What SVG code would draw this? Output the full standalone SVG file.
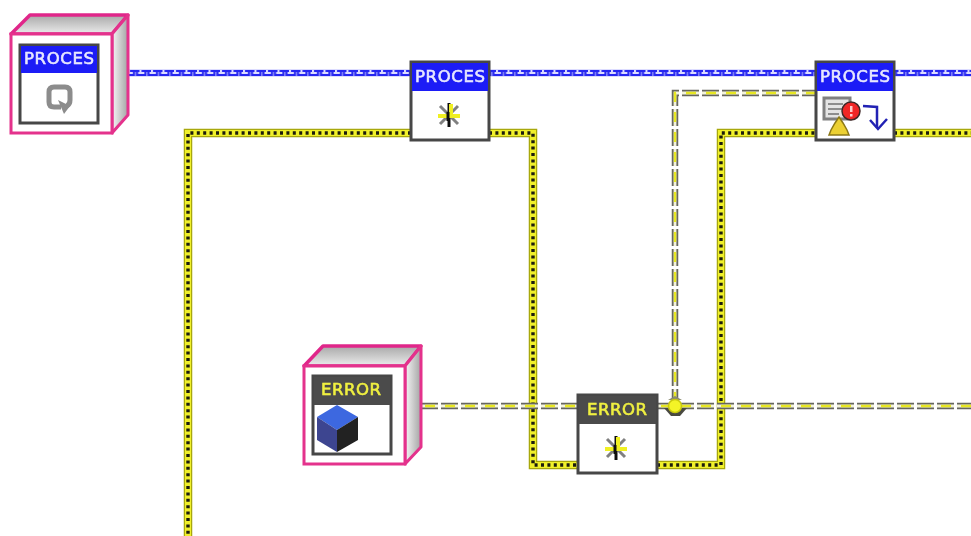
<svg xmlns="http://www.w3.org/2000/svg" width="971" height="536" viewBox="0 0 971 536">
<style>
.frame{fill:#fff;stroke:#e4308c;stroke-width:3}
.top{fill:url(#topGrad);stroke:#e0288a;stroke-width:3.500;stroke-linejoin:round}
.side{fill:url(#sideGrad);stroke:#e4308c;stroke-width:3;stroke-linejoin:round}
.box{fill:#fff;stroke:#464646;stroke-width:3}
.hdrP{fill:#1c1cf6}
.hdrE{fill:#4c4c4c}
.lab{font-family:"DejaVu Sans","Liberation Sans",sans-serif;font-size:16.500px;text-anchor:middle;stroke-width:.6}
.labP{fill:#e8e8ff;stroke:#e8e8ff}
.labE{fill:#f0f040;stroke:#f0f040}
.w{fill:none;stroke-linejoin:miter}
.yb{stroke:#a8a810;stroke-width:8.500}
.yf{stroke:#f0f02c;stroke-width:6}
.yd{stroke:#1c1c0c;stroke-width:3.400;stroke-dasharray:3 3.400}
.eb{stroke:#66665e;stroke-width:6.500;stroke-dasharray:17 3}
.ew{stroke:#f4f4dc;stroke-width:2.800;stroke-dasharray:17 3}
.ey{stroke:#e8e820;stroke-width:2.400;stroke-dasharray:10 10;stroke-dashoffset:-4}
.dg{stroke:#808080;stroke-width:3;fill:none}
.star{stroke:#101010;stroke-width:3;fill:none}
.starY{stroke:#f0f020;stroke-width:4;fill:none}
</style>
<defs>
<linearGradient id="topGrad" x1="0" y1="0" x2="0" y2="1"><stop offset="0" stop-color="#a8a8a8"/><stop offset="1" stop-color="#ececec"/></linearGradient>
<linearGradient id="sideGrad" x1="0" y1="0" x2="1" y2="0"><stop offset="0" stop-color="#f6f6f6"/><stop offset="1" stop-color="#a4a4a4"/></linearGradient>
<pattern id="blueWire" patternUnits="userSpaceOnUse" x="128" y="69" width="11.500" height="8">
<rect width="11.500" height="8" fill="#dcdcff"/>
<path d="M0 6H6V2H2M6 2H11.500M9 2V6H11.500" fill="none" stroke="#2828f0" stroke-width="2.200"/>
</pattern>
<filter id="soft" x="-5%" y="-5%" width="110%" height="110%"><feGaussianBlur stdDeviation="0.7"/></filter>
<g id="starIcon">
<path class="dg" d="M-9 -9L9 9M9 -9L-9 9"/>
<path class="star" d="M0 -12V12"/>
<path class="starY" d="M-11 1H11"/>
<path class="starY" d="M2 -11V1"/>
<path class="star" d="M-1 -3V6"/>
</g>
</defs>
<rect width="971" height="536" fill="#fff"/>
<g filter="url(#soft)">
<g id="connectors">
<g id="wire-blue">
<rect x="128" y="69" width="283" height="8" fill="url(#blueWire)"/>
<rect x="489" y="69" width="327" height="8" fill="url(#blueWire)"/>
<rect x="894" y="69" width="77" height="8" fill="url(#blueWire)"/>
</g>
<g id="wire-yellow" class="w">
<path class="w yb" d="M411 133H188V536"/><path class="w yf" d="M411 133H188V536"/><path class="w yd" d="M411 133H188V536"/>
<path class="w yb" d="M489 133H533V465H578"/><path class="w yf" d="M489 133H533V465H578"/><path class="w yd" d="M489 133H533V465H578"/>
<path class="w yb" d="M657 465H721V133H816"/><path class="w yf" d="M657 465H721V133H816"/><path class="w yd" d="M657 465H721V133H816"/>
<path class="w yb" d="M894 133H971"/><path class="w yf" d="M894 133H971"/><path class="w yd" d="M894 133H971"/>
</g>
<g id="wire-error" class="w">
<path class="w eb" d="M421 406H578"/><path class="w ew" d="M421 406H578"/><path class="w ey" d="M421 406H578"/>
<path class="w eb" d="M657 406H971"/><path class="w ew" d="M657 406H971"/><path class="w ey" d="M657 406H971"/>
<path class="w eb" d="M675 406V93H816"/><path class="w ew" d="M675 406V93H816"/><path class="w ey" d="M675 406V93H816"/>
<path d="M664 408L671 416H680L687 408Z" fill="#4a4a40"/>
<path d="M668 400L675 396L682 400Z" fill="#8a8a70"/>
<circle cx="675" cy="406" r="6.500" fill="#f4f428" stroke="#c8c810" stroke-width="1.500"/>
</g>
</g>
<g id="node-proces-control">
<path class="top" d="M11 34L30 15H128L112 34Z"/>
<path class="side" d="M112 34L128 15V115L112 133Z"/>
<rect class="frame" x="11" y="34" width="101" height="99"/>
<rect class="box" x="20" y="45" width="78" height="78"/>
<rect class="hdrP" x="21" y="46" width="76" height="27"/>
<text class="lab labP" x="59" y="64" textLength="70" lengthAdjust="spacing">PROCES</text>
<path d="M61 107H54Q49 107 49 102V92Q49 87 54 87H65Q70 87 70 92V100Q70 104 67 106" fill="none" stroke="#8c8c8c" stroke-width="5"/>
<path d="M58 100L70 106L64 114Z" fill="#8c8c8c"/>
</g>
<g id="node-proces-new">
<rect class="box" x="411" y="62" width="78" height="78"/>
<rect class="hdrP" x="412" y="63" width="76" height="28"/>
<text class="lab labP" x="450" y="82" textLength="70" lengthAdjust="spacing">PROCES</text>
<use href="#starIcon" x="449" y="115"/>
</g>
<g id="node-proces-status">
<rect class="box" x="816" y="62" width="78" height="78"/>
<rect class="hdrP" x="817" y="63" width="76" height="28"/>
<text class="lab labP" x="855" y="82" textLength="70" lengthAdjust="spacing">PROCES</text>
<rect x="824" y="98" width="26" height="21" fill="#e4e4e4" stroke="#808080" stroke-width="3"/>
<path d="M828 104H843M828 109H843M828 114H839" stroke="#707070" stroke-width="1.500"/>
<circle cx="851" cy="111" r="9" fill="#f02828" stroke="#402828" stroke-width="1.500"/>
<rect x="850" y="106" width="2.500" height="6" fill="#fcc"/><rect x="850" y="114" width="2.500" height="2.500" fill="#fcc"/>
<path d="M839 117L843 123L847 130L849 135H829L831 130L835 123Z" fill="#ecd030" stroke="#8c7818" stroke-width="1.500"/>
<path d="M863 106L877 107V128" fill="none" stroke="#2020b4" stroke-width="2.500"/>
<path d="M870 120L878 129L887 119" fill="none" stroke="#2020b4" stroke-width="2.500"/>
</g>
<g id="node-error-control">
<path class="top" d="M304 366L323 346H421L405 366Z"/>
<path class="side" d="M405 366L421 346V447L405 464Z"/>
<rect class="frame" x="304" y="366" width="101" height="98"/>
<rect class="box" x="313" y="376" width="78" height="78"/>
<rect class="hdrE" x="314" y="377" width="76" height="28"/>
<text class="lab labE" x="351" y="395" textLength="60" lengthAdjust="spacing">ERROR</text>
<path d="M337 405L358 417L337 430L317 417Z" fill="#3c68e0"/>
<path d="M317 417L337 430V452L317 440Z" fill="#3c4490"/>
<path d="M358 417L337 430V452L358 440Z" fill="#202020"/>
</g>
<g id="node-error-new">
<rect class="box" x="578" y="395" width="79" height="78"/>
<rect class="hdrE" x="579" y="396" width="77" height="28"/>
<text class="lab labE" x="617" y="415" textLength="60" lengthAdjust="spacing">ERROR</text>
<use href="#starIcon" x="616" y="448"/>
</g>
</g>
</svg>
